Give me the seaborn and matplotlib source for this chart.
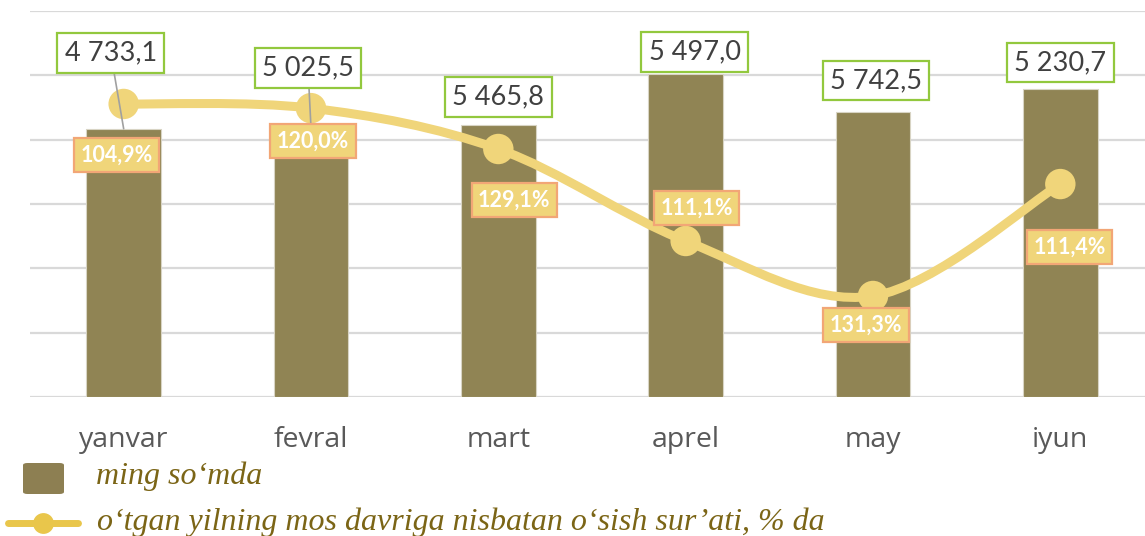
import numpy as np
import matplotlib.pyplot as plt
import seaborn as sns
from matplotlib.path import Path
from matplotlib.patches import PathPatch, FancyBboxPatch
from matplotlib.lines import Line2D

# Oylar va qiymatlar
months = ['yanvar', 'fevral', 'mart', 'aprel', 'may', 'iyun']
bar_labels = ['4 733,1', '5 025,5', '5 465,8', '5 497,0', '5 742,5', '5 230,7']
bar_heights = [4170, 4185, 4230, 5025, 4435, 4780]      # ustun balandligi (rasmdan)
pct_labels = ['104,9%', '120,0%', '129,1%', '111,1%', '131,3%', '111,4%']
pct_heights = [91.1, 89.8, 77.1, 48.5, 31.4, 66.2]      # chiziq nuqtalari (rasmdan)

legend_bar = 'ming so‘mda'
legend_line = 'o‘tgan yilning mos davriga nisbatan o‘sish sur’ati, % da'

# Ranglar
bar_color = '#908454'
line_color = '#F0D57A'
green_edge = '#92C83E'
orange_edge = '#F2A676'
legend_text = '#7B6516'

sns.set_theme(style='white')
plt.rcParams['font.family'] = ['Lato', 'DejaVu Sans']

W, H = 1145, 536
fig = plt.figure(figsize=(W / 100, H / 100), dpi=100)
ax = fig.add_axes([30 / W, 139 / H, 1 - 30 / W, 386 / H])

sns.barplot(x=months, y=bar_heights, color=bar_color, width=0.4,
            edgecolor='#D8D4C4', linewidth=0.8, saturation=1, ax=ax, zorder=2)
ax.set_ylim(0, 6000)
ax.set_xlim(-0.5, 5.452)
ax.set_yticks(range(0, 6001, 1000))
ax.set_yticklabels([])
ax.grid(axis='y', color='#D9D9D9', linewidth=1.6, zorder=0)
ax.set_axisbelow(True)
for s in ax.spines.values():
    s.set_visible(False)
ax.tick_params(axis='x', length=0, labelsize=20.5, labelcolor='#595959', pad=21)
for t in ax.get_xticklabels():
    t.set_family(['Open Sans', 'DejaVu Sans'])
ax.tick_params(axis='y', length=0)
ax.set_xlabel('')
ax.set_ylabel('')

# Ikkinchi o'q: o'sish sur'ati chizig'i
ax2 = ax.twinx()
ax2.set_ylim(0, 120)
ax2.set_axis_off()

# Silliq chiziq (Bezier egri chizig'i)
xs = np.arange(len(months), dtype=float)
ys = np.array(pct_heights, dtype=float)
pts = np.column_stack([xs, ys])
verts = [pts[0]]
codes = [Path.MOVETO]
for i in range(len(pts) - 1):
    p0 = pts[i - 1] if i > 0 else pts[i]
    p1, p2 = pts[i], pts[i + 1]
    p3 = pts[i + 2] if i + 2 < len(pts) else pts[i + 1]
    verts += [p1 + (p2 - p0) / 6, p2 - (p3 - p1) / 6, p2]
    codes += [Path.CURVE4] * 3
ax2.add_patch(PathPatch(Path(verts, codes), facecolor='none', edgecolor=line_color,
                        lw=6.5, capstyle='round', zorder=3))
sns.scatterplot(x=xs, y=ys, s=480, color=line_color, edgecolor='none', ax=ax2,
                zorder=4, legend=False)
ax2.set_xlim(-0.5, 5.452)

# Qiymat yorliqlari (ustunlar)
val_offsets = [(-13, 76), (-3, 60), (0, 28), (9, 22), (3, 31), (0, 27)]
for i, (lab, h) in enumerate(zip(bar_labels, bar_heights)):
    dx, dy = val_offsets[i]
    arrow = dict(arrowstyle='-', color='#A0A0A0', lw=1.2, shrinkA=0, shrinkB=0) if i < 2 else None
    ax2.annotate(lab, xy=(i, h), xycoords=ax.transData, xytext=(dx, dy),
                 textcoords='offset pixels', ha='center', va='center',
                 fontsize=19.5, color='#404040',
                 bbox=dict(boxstyle='square,pad=0.27', fc='white', ec=green_edge, lw=1.6),
                 arrowprops=arrow, zorder=6)

# Foiz yorliqlari (chiziq)
pct_offsets = [(-7, -51), (2, -33), (16, -51), (11, 33), (-7, -29), (9, -63)]
for i, (lab, h) in enumerate(zip(pct_labels, pct_heights)):
    dx, dy = pct_offsets[i]
    ax2.annotate(lab, xy=(i, h), xytext=(dx, dy), textcoords='offset pixels',
                 ha='center', va='center', fontsize=15.5, fontweight='bold', color='white',
                 bbox=dict(boxstyle='square,pad=0.3', fc=line_color, ec=orange_edge, lw=1.6),
                 zorder=7)

# Legenda
fig.add_artist(FancyBboxPatch((23 / W, 1 - 494 / H), 41 / W, 31 / H,
                              boxstyle='round,pad=0,rounding_size=0.004',
                              transform=fig.transFigure, fc='#8D7F52', ec='none'))
fig.add_artist(Line2D([8 / W, 78 / W], [1 - 523 / H, 1 - 523 / H], transform=fig.transFigure,
                      color='#E9C64B', lw=5, solid_capstyle='round'))
fig.add_artist(Line2D([43 / W], [1 - 523 / H], transform=fig.transFigure, marker='o',
                      markersize=15, color='#E9C64B', markeredgecolor='none'))
fig.text(96 / W, 1 - 476 / H, legend_bar, fontsize=23, style='italic', color=legend_text,
         family='Liberation Serif', va='center', ha='left')
fig.text(97 / W, 1 - 522 / H, legend_line, fontsize=23, style='italic', color=legend_text,
         family='Liberation Serif', va='center', ha='left')

fig.savefig('out.png', dpi=100)
